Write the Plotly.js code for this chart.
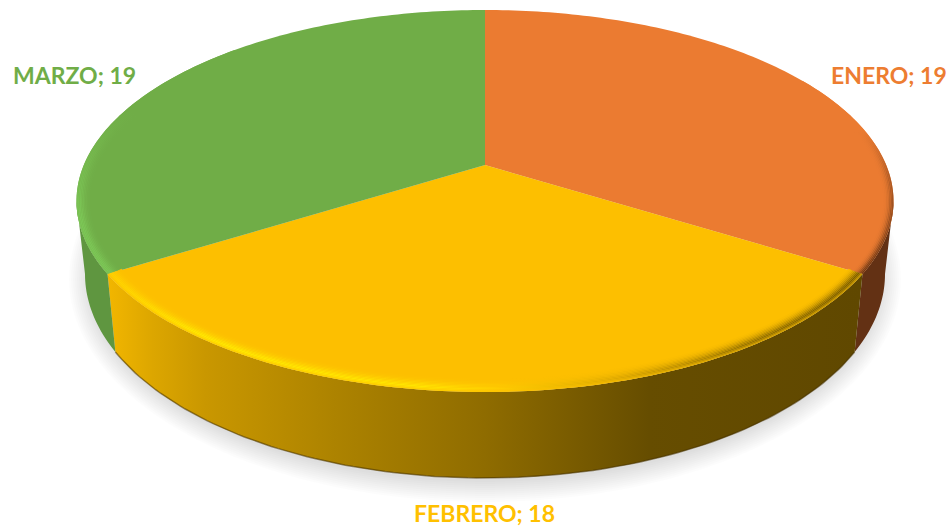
<!DOCTYPE html>
<html>
<head>
<meta charset="utf-8">
<script src="https://cdn.plot.ly/plotly-3.0.1.min.js"></script>
<style>html,body{margin:0;padding:0;background:#fff;overflow:hidden}#chart{width:951px;height:527px}</style>
</head>
<body>
<div id="chart"></div>
<script>
const categories = ['ENERO', 'FEBRERO', 'MARZO'];
const values = [19, 18, 19];
const faceColors = ['#EB7B31', '#FDBF00', '#70AD47'];
const labelColors = ['#ED7D31', '#FFC000', '#70AD47'];

const TOP = {cx: 485, cy: 201, a: 408.5, b: 191};
const BOTTOM = {cx: 485, cy: 274, a: 400, b: 204};
const TILT = 0.188;

function rgb(h){return [1,3,5].map(i=>parseInt(h.substr(i,2),16));}
function mix(h1,h2,w){const A=rgb(h1),B=rgb(h2);return 'rgb('+A.map((v,i)=>Math.round(v+(B[i]-v)*w)).join(',')+')';}
function pt(deg,e,inset){
  const t=deg*Math.PI/180, X=Math.sin(t), Y=Math.cos(t), d=1+TILT*Y;
  const u=X*Math.sqrt(1-TILT*TILT)/d, v=(Y+TILT)/d;
  const ins=inset||0;
  return [e.cx+(e.a-ins)*u, e.cy-(e.b-ins*0.9)*v];
}
function arc(a0,a1,e,inset){
  const out=[], n=Math.max(2,Math.ceil(Math.abs(a1-a0)));
  for(let i=0;i<=n;i++) out.push(pt(a0+(a1-a0)*i/n,e,inset));
  return out;
}
function poly(points,extra){
  return Object.assign({type:'scatter',mode:'none',x:points.map(p=>p[0]),y:points.map(p=>p[1]),
    fill:'toself',hoverinfo:'skip',showlegend:false},extra);
}

const total = values.reduce((s,v)=>s+v,0);
const bounds=[0];
values.forEach(v=>bounds.push(bounds[bounds.length-1]+v/total*360));
const edge = Math.acos(-TILT)*180/Math.PI;
const apex=[TOP.cx, TOP.cy-TOP.b*TILT];

const traces=[];

// soft shadow under the disc
for(let k=0;k<=20;k+=2){
  const e={cx:485,cy:279,a:396+k,b:203+k};
  traces.push(poly(arc(0,360,e),{fillcolor:'rgba(0,0,0,0.013)'}));
}

// side walls
const wallRange=[[edge,bounds[1]],[bounds[1],bounds[2]],[bounds[2],360-edge]];
const wallFill=[
  {fillcolor:'#633114'},
  {fillgradient:{type:'horizontal',start:108,stop:860,colorscale:[
    [0,'#F2B600'],[0.06,'#DCA600'],[0.13,'#C99700'],[0.3,'#AD8300'],[0.5,'#8F6C00'],[0.72,'#664D00'],[1,'#604800']]}},
  {fillcolor:'#5F9640'}
];
wallRange.forEach((r,i)=>{
  const pts=arc(r[0],r[1],TOP).concat(arc(r[1],r[0],BOTTOM));
  traces.push(poly(pts,wallFill[i]));
});
const lip=arc(bounds[1],bounds[2],BOTTOM);
traces.push({type:'scatter',mode:'lines',x:lip.map(p=>p[0]),y:lip.map(p=>p[1]),
  line:{color:'rgba(70,50,0,0.55)',width:1.5},hoverinfo:'skip',showlegend:false});

// top faces
categories.forEach((c,i)=>{
  const pts=[apex].concat(arc(bounds[i],bounds[i+1],TOP));
  pts.push(apex);
  traces.push(poly(pts,{fillcolor:faceColors[i]}));
});

// bevelled rim
const STEP=1.5;
const rimSpec=[
  {range:[60,bounds[1]],type:'vertical',start:130,stop:275,weights:[1,.85,.6,.35,.18,.07,.02],
    stops:[[0,'#EB7B31'],[0.3,'#B55E26'],[1,'#6E3815']]},
  {range:[bounds[1],bounds[2]],type:'horizontal',start:108,stop:860,weights:[.45,.8,1,.85,.65,.45,.3,.17,.08,.03],
    stops:[[0,'#FFD000'],[0.12,'#FFE800'],[0.42,'#FFE400'],[0.52,'#FFCC00'],[0.68,'#DDA800'],[0.85,'#987300'],[1,'#7A5C00']]},
  {range:[bounds[2],315],type:'vertical',start:110,stop:215,weights:[.9,1,.95,.8,.6,.4,.25,.12,.04],
    stops:[[0,'#70AD47'],[1,'#7CC656']]}
];
rimSpec.forEach((s,i)=>{
  s.weights.forEach((w,j)=>{
    const pts=arc(s.range[0],s.range[1],TOP,j*STEP).concat(arc(s.range[1],s.range[0],TOP,(j+1)*STEP));
    traces.push(poly(pts,{fillgradient:{type:s.type,start:s.start,stop:s.stop,
      colorscale:s.stops.map(q=>[q[0],mix(faceColors[i],q[1],w)])}}));
  });
});

const labelText=categories.map((c,i)=>c+'; '+values[i]);
const labelFont=i=>({family:'Lato, sans-serif',size:23,color:labelColors[i]});
const layout={
  width:951,height:527,margin:{l:0,r:0,t:0,b:0},paper_bgcolor:'#fff',plot_bgcolor:'#fff',showlegend:false,hovermode:false,
  xaxis:{range:[0,951],visible:false,fixedrange:true},
  yaxis:{range:[527,0],visible:false,fixedrange:true},
  annotations:[
    {text:'<b>'+labelText[0]+'</b>',x:889,y:75,showarrow:false,font:labelFont(0)},
    {text:'<b>'+labelText[1]+'</b>',x:484,y:513,showarrow:false,font:labelFont(1)},
    {text:'<b>'+labelText[2]+'</b>',x:74,y:75,showarrow:false,font:labelFont(2)}
  ]
};
Plotly.newPlot('chart',traces,layout,{displayModeBar:false,staticPlot:true});
</script>
</body>
</html>
